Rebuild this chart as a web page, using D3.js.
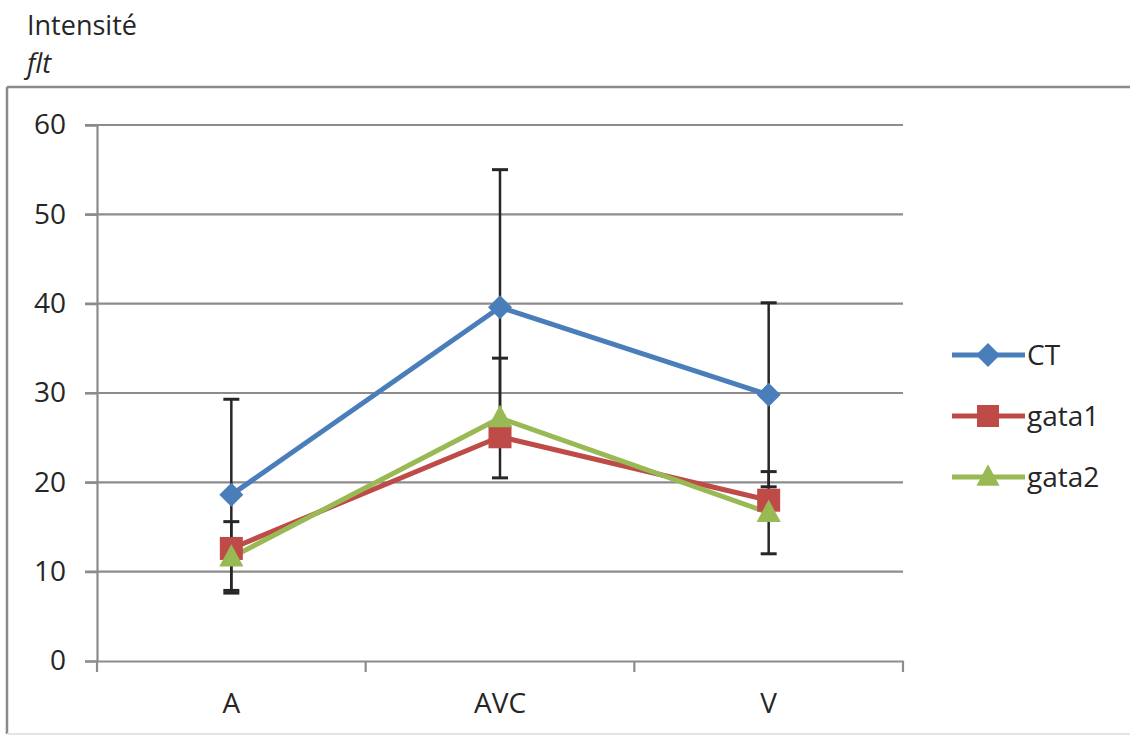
<!DOCTYPE html>
<html><head><meta charset="utf-8">
<script src="https://cdn.jsdelivr.net/npm/d3@7"></script>
<style>body{margin:0;background:#fff}svg{display:block}text{font-family:"Open Sans",Lato,sans-serif;fill:#262626}</style>
</head><body>
<svg id="c" width="1130" height="740"></svg>
<script>
const categories = ["A","AVC","V"];
const seriesNames = ["CT","gata1","gata2"];
const ctValues = [18.6, 39.6, 29.8];
const gata1Values = [12.6, 25.1, 18.0];
const gata2Values = [11.6, 27.2, 16.6];
const ctErrors = [10.7, 15.4, 10.3];
const gata1Errors = [null, null, null];
const gata2Errors = [4.0, 6.7, 4.6];
const yTicks = [0,10,20,30,40,50,60];
const colors = ["#4a7ebb","#be4b48","#98b954"];

const series = [
  {name: seriesNames[0], values: ctValues, errors: ctErrors, color: colors[0], shape: "diamond"},
  {name: seriesNames[1], values: gata1Values, errors: gata1Errors, color: colors[1], shape: "square"},
  {name: seriesNames[2], values: gata2Values, errors: gata2Errors, color: colors[2], shape: "triangle"}
];
const FS = 28;
const svg = d3.select("#c");
// outer frame
svg.append("line").attr("x1",7).attr("x2",1130).attr("y1",87).attr("y2",87).attr("stroke","#8a8a8a").attr("stroke-width",2.5);
svg.append("line").attr("x1",7).attr("x2",7).attr("y1",87).attr("y2",734).attr("stroke","#8a8a8a").attr("stroke-width",2.5);
svg.append("line").attr("x1",7).attr("x2",1130).attr("y1",734).attr("y2",734).attr("stroke","#e4e4e4").attr("stroke-width",2);

svg.append("text").attr("x",27).attr("y",35).attr("font-size",FS-1).text("Intensité");
svg.append("text").attr("x",27).attr("y",73).attr("font-size",FS-1).attr("font-style","italic").text("flt");

const L = 97, R = 903, T = 125, B = 661;
const x = d3.scaleBand().domain(categories).range([L,R]);
const y = d3.scaleLinear().domain([0,60]).range([B,T]);

// gridlines
svg.append("g").selectAll("line").data(yTicks.filter(d=>d>0)).join("line")
  .attr("x1",L-12).attr("x2",R).attr("y1",d=>y(d)).attr("y2",d=>y(d))
  .attr("stroke","#8c8c8c").attr("stroke-width",2.2);

// y axis
const ya = svg.append("g").attr("transform",`translate(${L},0)`)
  .call(d3.axisLeft(y).tickValues(yTicks).tickSize(12).tickPadding(19));
ya.select(".domain").attr("stroke","#8c8c8c").attr("stroke-width",2.2);
ya.selectAll(".tick line").attr("stroke","#8c8c8c").attr("stroke-width",2.2);
ya.selectAll("text").attr("font-size",FS).attr("font-family","'Open Sans',Lato,sans-serif").attr("fill","#262626");

// x axis
const xa = svg.append("g").attr("transform",`translate(0,${B})`)
  .call(d3.axisBottom(x).tickSize(0).tickPadding(32));
xa.select(".domain").attr("stroke","#8c8c8c").attr("stroke-width",2.2);
xa.selectAll("text").attr("font-size",FS).attr("font-family","'Open Sans',Lato,sans-serif").attr("fill","#262626");
// category boundary ticks
const bounds = categories.map(c=>x(c)).concat([x(categories[categories.length-1])+x.bandwidth()]);
svg.append("g").selectAll("line").data(bounds).join("line")
  .attr("x1",d=>d).attr("x2",d=>d).attr("y1",B).attr("y2",B+11)
  .attr("stroke","#8c8c8c").attr("stroke-width",2.2);

const cx = c => x(c) + x.bandwidth()/2;

// error bars
series.forEach(s=>{
  const g = svg.append("g");
  s.values.forEach((v,i)=>{
    const e = s.errors[i];
    if (e==null) return;
    const xc = cx(categories[i]);
    g.append("line").attr("x1",xc).attr("x2",xc).attr("y1",y(v+e)).attr("y2",y(v-e))
      .attr("stroke","#262626").attr("stroke-width",2.5);
    [v+e, v-e].forEach(t=>g.append("line").attr("x1",xc-8).attr("x2",xc+8).attr("y1",y(t)).attr("y2",y(t))
      .attr("stroke","#262626").attr("stroke-width",3));
  });
});

const line = d3.line().x((d,i)=>cx(categories[i])).y(d=>y(d));
function marker(g, shape, px, py, color, size){
  if (shape==="diamond") g.append("path").attr("d",`M${px},${py-size}L${px+size},${py}L${px},${py+size}L${px-size},${py}Z`).attr("fill",color);
  else if (shape==="square") g.append("rect").attr("x",px-size).attr("y",py-size).attr("width",size*2).attr("height",size*2).attr("fill",color);
  else g.append("path").attr("d",`M${px},${py-size*1.15}L${px+size*1.05},${py+size*0.8}L${px-size*1.05},${py+size*0.8}Z`).attr("fill",color);
}
series.forEach(s=>{
  svg.append("path").datum(s.values).attr("d",line).attr("fill","none")
    .attr("stroke",s.color).attr("stroke-width",5).attr("stroke-linejoin","round");
});
series.forEach(s=>{
  const g = svg.append("g");
  s.values.forEach((v,i)=>marker(g, s.shape, cx(categories[i]), y(v), s.color, s.shape==="diamond"?12:11.5));
});

// legend
const lg = svg.append("g");
series.forEach((s,i)=>{
  const ly = 355 + i*61;
  lg.append("line").attr("x1",952).attr("x2",1025).attr("y1",ly).attr("y2",ly)
    .attr("stroke",s.color).attr("stroke-width",5);
  marker(lg, s.shape, 988, ly, s.color, s.shape==="diamond"?12:11);
  lg.append("text").attr("x",1027).attr("y",ly+10).attr("font-size",FS).text(s.name);
});
</script>
</body></html>
